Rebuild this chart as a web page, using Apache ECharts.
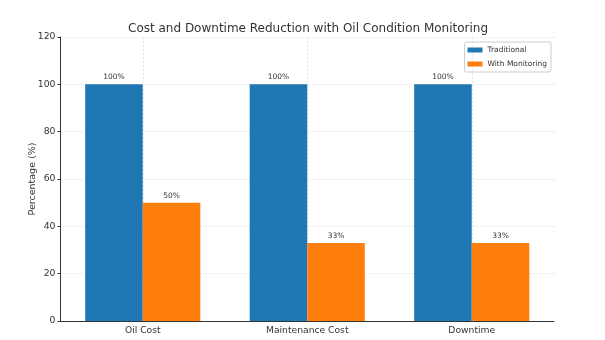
<!DOCTYPE html>
<html>
<head>
<meta charset="utf-8">
<script src="https://cdn.jsdelivr.net/npm/echarts@6/dist/echarts.min.js"></script>
<style>html,body{margin:0;padding:0;background:#fff;}#c{width:605px;height:340px;}</style>
</head>
<body>
<div id="c"></div>
<script>
const categories = ['Oil Cost', 'Maintenance Cost', 'Downtime'];
const traditional = [100, 100, 100];
const withMonitoring = [50, 33, 33];
const yTicks = [0, 20, 40, 60, 80, 100, 120];

const chart = echarts.init(document.getElementById('c'));
const FONT = 'DejaVu Sans';
const label = {
  show: true, position: 'top', distance: 3,
  fontFamily: FONT, fontSize: 7.5, color: '#333',
  formatter: p => p.value + '%'
};
chart.setOption({
  animation: false,
  backgroundColor: '#fff',
  title: {
    text: 'Cost and Downtime Reduction with Oil Condition Monitoring',
    left: 123, top: 18,
    textStyle: { fontFamily: FONT, fontSize: 12, fontWeight: 'normal', color: '#333' }
  },
  legend: {
    orient: 'vertical', right: 54, top: 42,
    itemWidth: 15, itemHeight: 5, itemGap: 6,
    padding: [4, 4, 4, 3],
    borderColor: '#ccc', borderWidth: 1, borderRadius: 2,
    icon: 'rect',
    textStyle: { fontFamily: FONT, fontSize: 7.5, color: '#333' },
    data: ['Traditional', 'With Monitoring']
  },
  grid: { left: 60.5, right: 51, top: 37, bottom: 19, containLabel: false },
  xAxis: {
    type: 'category', data: categories,
    axisLine: { lineStyle: { color: '#333', width: 1 } },
    axisTick: { alignWithLabel: true, length: 3, lineStyle: { color: '#333' } },
    axisLabel: { fontFamily: FONT, fontSize: 9.2, color: '#333', margin: 5 },
    splitLine: { show: true, alignWithLabel: true, lineStyle: { color: '#e0e0e0', type: [2, 2], width: 0.8 } }
  },
  yAxis: {
    type: 'value', min: yTicks[0], max: yTicks[yTicks.length - 1], interval: 20,
    name: 'Percentage (%)', nameLocation: 'middle', nameGap: 23, nameMoveOverlap: false,
    nameTextStyle: { fontFamily: FONT, fontSize: 9.5, color: '#333' },
    axisLine: { show: true, lineStyle: { color: '#333', width: 1 } },
    axisTick: { show: true, length: 3, lineStyle: { color: '#333' } },
    axisLabel: { fontFamily: FONT, fontSize: 9.3, color: '#333', margin: 5 },
    splitLine: { show: true, lineStyle: { color: '#e0e0e0', type: [2, 2], width: 0.8 } }
  },
  series: [
    { name: 'Traditional', type: 'bar', data: traditional, barWidth: '35%', barGap: '0%',
      itemStyle: { color: '#1f77b4' }, label: label },
    { name: 'With Monitoring', type: 'bar', data: withMonitoring, barWidth: '35%', barGap: '0%',
      itemStyle: { color: '#ff7f0e' }, label: label }
  ]
});
</script>
</body>
</html>
